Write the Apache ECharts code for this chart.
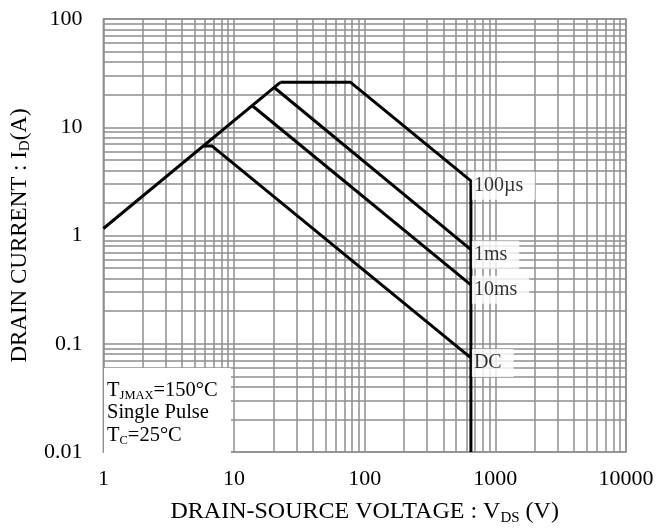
<!DOCTYPE html>
<html>
<head>
<meta charset="utf-8">
<script src="https://cdn.jsdelivr.net/npm/echarts@6/dist/echarts.min.js"></script>
<style>
  html, body { margin: 0; padding: 0; background: #fff; }
  #chart { width: 672px; height: 531px; }
</style>
</head>
<body>
<div id="chart"></div>
<script>
// Axis tick labels (decades)
const xTickLabels = ['1', '10', '100', '1000', '10000'];
const yTickLabels = ['0.01', '0.1', '1', '10', '100'];

// Safe operating area boundaries, [V_DS (V), I_D (A)]
const onResistanceLimit = [[1, 1.16], [22.6, 26.0]];
const pulse100us = [[22.6, 26.0], [78, 26.0], [650, 3.2], [650, 0.01]];
const pulse1ms = [[20.3, 23.3], [650, 0.74]];
const pulse10ms = [[13.8, 15.8], [650, 0.35]];
const pulseDC = [[5.8, 6.7], [6.8, 6.7], [650, 0.074]];

const curveNames = ['100µs', '1ms', '10ms', 'DC'];
const curveEnds = [pulse100us[2], pulse1ms[1], pulse10ms[1], pulseDC[2]];

const FONT = "'Liberation Serif', 'Times New Roman', serif";
const GRID_COLOR = '#8e8e8e';

// Log-scale minor grid positions (2..9 within each decade)
const xMinor = [];
for (let d = 0; d < 4; d++) for (let k = 2; k <= 9; k++) xMinor.push(k * Math.pow(10, d));
const yMinor = [];
for (let d = -2; d < 2; d++) for (let k = 2; k <= 9; k++) yMinor.push(+(k * Math.pow(10, d)).toPrecision(3));

const chart = echarts.init(document.getElementById('chart'), null, { renderer: 'canvas' });

const curveLine = { color: '#000', width: 3 };
function curve(name, data) {
  return {
    name, type: 'line', data, z: 3, symbol: 'none', silent: true,
    lineStyle: curveLine, itemStyle: { color: '#000' }, animation: false
  };
}

const option = {
  backgroundColor: '#fff',
  animation: false,
  grid: {
    left: 103, top: 19, width: 523, height: 440,
    show: true, borderColor: GRID_COLOR, borderWidth: 1.5, backgroundColor: 'transparent'
  },
  xAxis: {
    type: 'log', logBase: 10, min: 1, max: 10000,
    axisLine: { show: false }, axisTick: { show: false },
    splitLine: { show: true, lineStyle: { color: GRID_COLOR, width: 1.5 } },
    axisLabel: {
      margin: 16, fontFamily: FONT, fontSize: 22, color: '#000',
      formatter: v => xTickLabels[Math.round(Math.log10(v))]
    },
    name: '{a|DRAIN-SOURCE VOLTAGE : V}{s|DS}{a| (V)}',
    nameLocation: 'middle', nameGap: 46,
    nameTextStyle: {
      rich: {
        a: { fontFamily: FONT, fontSize: 24, color: '#000', lineHeight: 28 },
        s: { fontFamily: FONT, fontSize: 15, color: '#000', verticalAlign: 'bottom' }
      }
    }
  },
  yAxis: {
    type: 'log', logBase: 10, min: 0.01, max: 100,
    axisLine: { show: false }, axisTick: { show: false },
    splitLine: { show: true, lineStyle: { color: GRID_COLOR, width: 1.5 } },
    axisLabel: {
      margin: 21, fontFamily: FONT, fontSize: 22, color: '#000',
      formatter: v => yTickLabels[Math.round(Math.log10(v)) + 2]
    },
    name: '{a|DRAIN CURRENT : I}{s|D}{a|(A)}',
    nameLocation: 'middle', nameGap: 58, nameRotate: 90,
    nameTextStyle: {
      rich: {
        a: { fontFamily: FONT, fontSize: 23, color: '#000', lineHeight: 27 },
        s: { fontFamily: FONT, fontSize: 15, color: '#000', verticalAlign: 'bottom' }
      }
    }
  },
  series: [
    {
      name: 'minor grid', type: 'line', data: [], silent: true, z: 1,
      markLine: {
        z: 1, silent: true, symbol: ['none', 'none'], animation: false,
        label: { show: false },
        lineStyle: { color: GRID_COLOR, width: 1.5, type: 'solid' },
        emphasis: { disabled: true },
        data: xMinor.map(v => ({ xAxis: v })).concat(yMinor.map(v => ({ yAxis: v })))
      }
    },
    curve('R_DS(on) limit', onResistanceLimit),
    curve(curveNames[0], pulse100us),
    curve(curveNames[1], pulse1ms),
    curve(curveNames[2], pulse10ms),
    curve(curveNames[3], pulseDC),
    {
      name: 'curve labels', type: 'scatter', z: 4, silent: true,
      symbolSize: 0,
      data: curveEnds.map((p, i) => ({ value: p, name: curveNames[i] })),
      label: {
        show: true, position: 'right', distance: 1, offset: [0, 5],
        formatter: p => p.name,
        fontFamily: FONT, fontSize: 20, color: '#000', lineHeight: 20,
        backgroundColor: '#fff', padding: [4, 12, 4, 2]
      }
    }
  ],
  graphic: [
    {
      type: 'rect', left: 104, top: 368, z: 100,
      shape: { width: 127, height: 86 }, style: { fill: '#fff' }
    },
    {
      type: 'text', left: 107, top: 380, z: 101,
      style: {
        text: '{a|T}{s|JMAX}{a|=150°C}\n{a|Single Pulse}\n{a|T}{s|C}{a|=25°C}',
        rich: {
          a: { fontFamily: FONT, fontSize: 20.5, fill: '#000', lineHeight: 22.5 },
          s: { fontFamily: FONT, fontSize: 12.5, fill: '#000', verticalAlign: 'bottom' }
        }
      }
    }
  ]
};

chart.setOption(option);
</script>
</body>
</html>
